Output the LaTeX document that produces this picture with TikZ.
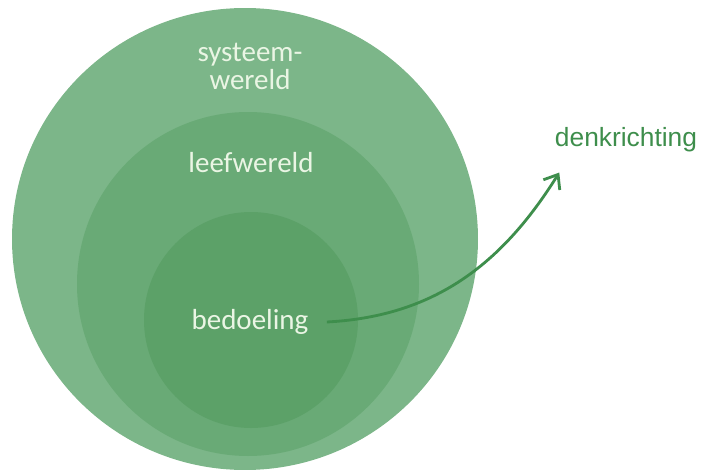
\documentclass[tikz,border=0pt]{standalone}
\usepackage{fontspec}
\setmainfont{Carlito}
\newfontfamily\arialfont{Liberation Sans}
\usetikzlibrary{arrows.meta}
\definecolor{outergreen}{RGB}{124,182,137}
\definecolor{midgreen}{RGB}{105,170,118}
\definecolor{innergreen}{RGB}{92,161,104}
\definecolor{textgreen}{RGB}{234,245,228}
\definecolor{arrowgreen}{RGB}{62,142,76}
\tikzset{
  worldlabel/.style={text=textgreen,font=\fontsize{16.5}{16}\selectfont,align=center},
}

\begin{document}
\begin{tikzpicture}[x=0.02cm,y=-0.02cm]
                      \useasboundingbox (0,0) rectangle (701,470);
                      \fill[outergreen] (245,239) ellipse [x radius=233,y radius=231];
                      \fill[midgreen] (248,284) ellipse [x radius=171,y radius=172];
                      \fill[innergreen] (251,320) ellipse [x radius=107,y radius=108];
                      \node[worldlabel](systeem)at(250,66){systeem-\\wereld};
                      \node[worldlabel](leef)at(251,163){leefwereld};
                      \node[worldlabel](bedoel)at(250,322){bedoeling};
                      \node[text=arrowgreen,font=\arialfont\fontsize{15}{18}\selectfont](denk)at(626,140){denkrichting};
                      \draw[arrowgreen,line width=1.6pt,-{Straight Barb[length=7pt,width=11pt]}] ([xshift=7pt]bedoel.east) to[out=3,in=238] ([shift={(6pt,-8pt)}]denk.south west);
                  \end{tikzpicture}
\end{document}
